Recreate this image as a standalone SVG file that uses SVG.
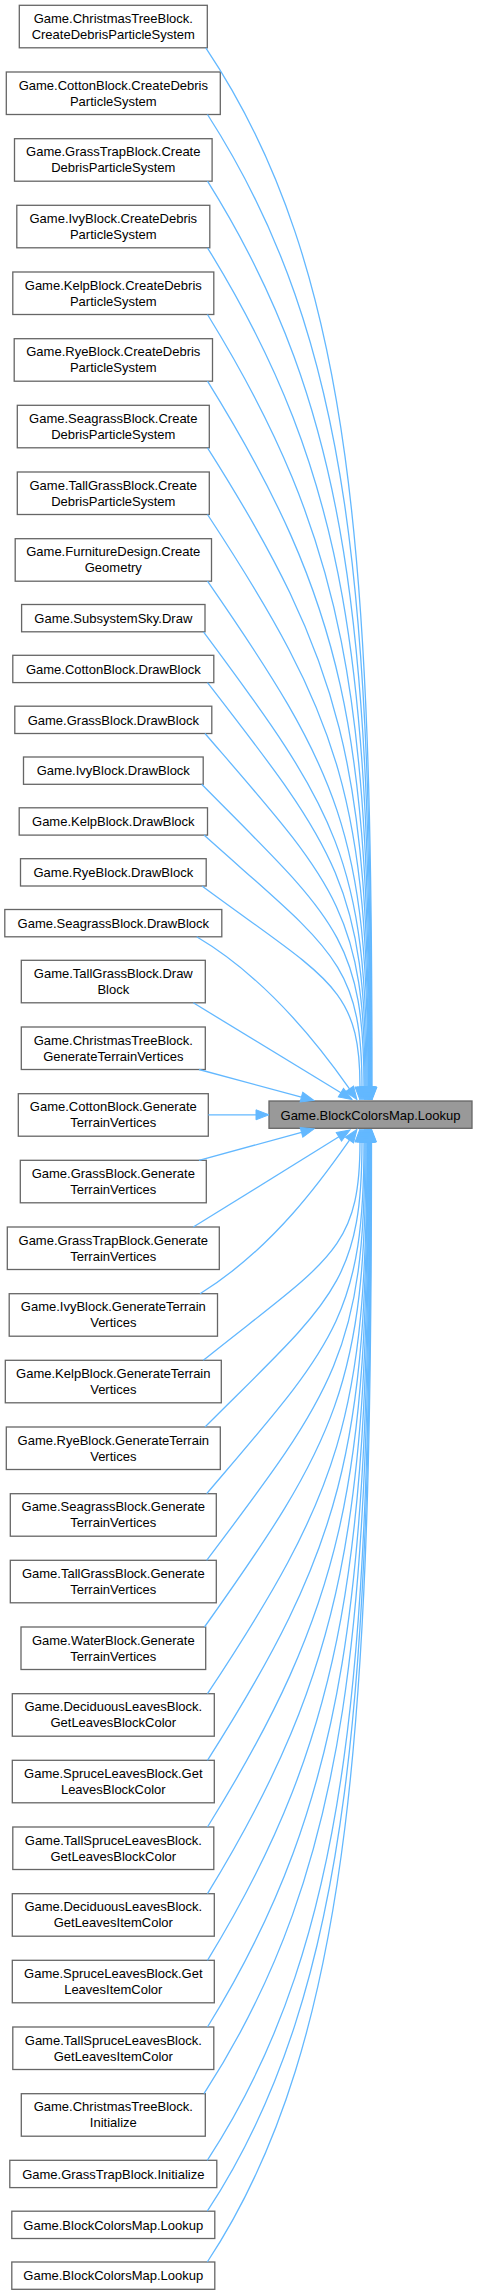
<svg xmlns="http://www.w3.org/2000/svg" width="477" height="2293" viewBox="0 0 477 2293">
<style>
.n rect{fill:#ffffff;stroke:#666666;stroke-width:1.3}
#target rect{fill:#999999;stroke:#666666;stroke-width:1.3}
text{font-family:"Liberation Sans",Arial,Helvetica,sans-serif;font-size:13px;fill:#000000;text-anchor:middle}
.e path{fill:none;stroke:#63b8ff;stroke-width:1.3;marker-end:url(#ah)}
</style>
<defs>
<marker id="ah" markerUnits="userSpaceOnUse" viewBox="0 0 13 10" markerWidth="13" markerHeight="10" refX="0" refY="5" orient="auto" overflow="visible">
<path d="M0,0 L13,5 L0,10 Z" fill="#63b8ff" stroke="#63b8ff" stroke-width="1"/>
</marker>
</defs>
<rect width="477" height="2293" fill="#ffffff"/>
<g id="target" class="n"><rect x="269" y="1101" width="203" height="27.3"/><text x="370.5" y="1119.5">Game.BlockColorsMap.Lookup</text></g>
<g id="n1" class="n"><rect x="19.3" y="5.3" width="188" height="42.5"/><text x="113.3" y="22.8">Game.ChristmasTreeBlock.</text><text x="113.3" y="39">CreateDebrisParticleSystem</text></g>
<g id="n2" class="n"><rect x="6.3" y="72" width="214" height="42.5"/><text x="113.3" y="89.5">Game.CottonBlock.CreateDebris</text><text x="113.3" y="105.7">ParticleSystem</text></g>
<g id="n3" class="n"><rect x="14.5" y="138.7" width="197.6" height="42.5"/><text x="113.3" y="156.2">Game.GrassTrapBlock.Create</text><text x="113.3" y="172.4">DebrisParticleSystem</text></g>
<g id="n4" class="n"><rect x="16.8" y="205.3" width="193" height="42.5"/><text x="113.3" y="222.8">Game.IvyBlock.CreateDebris</text><text x="113.3" y="239">ParticleSystem</text></g>
<g id="n5" class="n"><rect x="12.8" y="272" width="201" height="42.5"/><text x="113.3" y="289.5">Game.KelpBlock.CreateDebris</text><text x="113.3" y="305.7">ParticleSystem</text></g>
<g id="n6" class="n"><rect x="14.2" y="338.7" width="198.3" height="42.5"/><text x="113.3" y="356.2">Game.RyeBlock.CreateDebris</text><text x="113.3" y="372.4">ParticleSystem</text></g>
<g id="n7" class="n"><rect x="17.3" y="405.3" width="192" height="42.5"/><text x="113.3" y="422.8">Game.SeagrassBlock.Create</text><text x="113.3" y="439">DebrisParticleSystem</text></g>
<g id="n8" class="n"><rect x="17.3" y="472" width="192" height="42.5"/><text x="113.3" y="489.5">Game.TallGrassBlock.Create</text><text x="113.3" y="505.7">DebrisParticleSystem</text></g>
<g id="n9" class="n"><rect x="15.2" y="538.7" width="196.3" height="42.5"/><text x="113.3" y="556.2">Game.FurnitureDesign.Create</text><text x="113.3" y="572.4">Geometry</text></g>
<g id="n10" class="n"><rect x="21.6" y="604.5" width="183.4" height="27.3"/><text x="113.3" y="622.8">Game.SubsystemSky.Draw</text></g>
<g id="n11" class="n"><rect x="12.8" y="655.3" width="201" height="27.3"/><text x="113.3" y="673.6">Game.CottonBlock.DrawBlock</text></g>
<g id="n12" class="n"><rect x="14.8" y="706.2" width="197" height="27.3"/><text x="113.3" y="724.5">Game.GrassBlock.DrawBlock</text></g>
<g id="n13" class="n"><rect x="23.5" y="757" width="179.7" height="27.3"/><text x="113.3" y="775.3">Game.IvyBlock.DrawBlock</text></g>
<g id="n14" class="n"><rect x="19.2" y="807.8" width="188.3" height="27.3"/><text x="113.3" y="826.1">Game.KelpBlock.DrawBlock</text></g>
<g id="n15" class="n"><rect x="20.5" y="858.7" width="185.7" height="27.3"/><text x="113.3" y="877">Game.RyeBlock.DrawBlock</text></g>
<g id="n16" class="n"><rect x="4.8" y="909.5" width="217" height="27.3"/><text x="113.3" y="927.8">Game.SeagrassBlock.DrawBlock</text></g>
<g id="n17" class="n"><rect x="21.3" y="960.3" width="184" height="42.5"/><text x="113.3" y="977.8">Game.TallGrassBlock.Draw</text><text x="113.3" y="994">Block</text></g>
<g id="n18" class="n"><rect x="21.3" y="1027" width="184" height="42.5"/><text x="113.3" y="1044.5">Game.ChristmasTreeBlock.</text><text x="113.3" y="1060.7">GenerateTerrainVertices</text></g>
<g id="n19" class="n"><rect x="18.3" y="1093.7" width="190" height="42.5"/><text x="113.3" y="1111.2">Game.CottonBlock.Generate</text><text x="113.3" y="1127.4">TerrainVertices</text></g>
<g id="n20" class="n"><rect x="20.3" y="1160.3" width="186" height="42.5"/><text x="113.3" y="1177.8">Game.GrassBlock.Generate</text><text x="113.3" y="1194">TerrainVertices</text></g>
<g id="n21" class="n"><rect x="7.3" y="1227" width="212" height="42.5"/><text x="113.3" y="1244.5">Game.GrassTrapBlock.Generate</text><text x="113.3" y="1260.7">TerrainVertices</text></g>
<g id="n22" class="n"><rect x="9.2" y="1293.7" width="208.3" height="42.5"/><text x="113.3" y="1311.2">Game.IvyBlock.GenerateTerrain</text><text x="113.3" y="1327.4">Vertices</text></g>
<g id="n23" class="n"><rect x="5.3" y="1360.3" width="216" height="42.5"/><text x="113.3" y="1377.8">Game.KelpBlock.GenerateTerrain</text><text x="113.3" y="1394">Vertices</text></g>
<g id="n24" class="n"><rect x="6.3" y="1427" width="214" height="42.5"/><text x="113.3" y="1444.5">Game.RyeBlock.GenerateTerrain</text><text x="113.3" y="1460.7">Vertices</text></g>
<g id="n25" class="n"><rect x="10.3" y="1493.7" width="206" height="42.5"/><text x="113.3" y="1511.2">Game.SeagrassBlock.Generate</text><text x="113.3" y="1527.4">TerrainVertices</text></g>
<g id="n26" class="n"><rect x="10.3" y="1560.3" width="206" height="42.5"/><text x="113.3" y="1577.8">Game.TallGrassBlock.Generate</text><text x="113.3" y="1594">TerrainVertices</text></g>
<g id="n27" class="n"><rect x="21" y="1627" width="184.7" height="42.5"/><text x="113.3" y="1644.5">Game.WaterBlock.Generate</text><text x="113.3" y="1660.7">TerrainVertices</text></g>
<g id="n28" class="n"><rect x="12.3" y="1693.7" width="202" height="42.5"/><text x="113.3" y="1711.2">Game.DeciduousLeavesBlock.</text><text x="113.3" y="1727.4">GetLeavesBlockColor</text></g>
<g id="n29" class="n"><rect x="12.3" y="1760.3" width="202" height="42.5"/><text x="113.3" y="1777.8">Game.SpruceLeavesBlock.Get</text><text x="113.3" y="1794">LeavesBlockColor</text></g>
<g id="n30" class="n"><rect x="12.8" y="1827" width="201" height="42.5"/><text x="113.3" y="1844.5">Game.TallSpruceLeavesBlock.</text><text x="113.3" y="1860.7">GetLeavesBlockColor</text></g>
<g id="n31" class="n"><rect x="12.3" y="1893.7" width="202" height="42.5"/><text x="113.3" y="1911.2">Game.DeciduousLeavesBlock.</text><text x="113.3" y="1927.4">GetLeavesItemColor</text></g>
<g id="n32" class="n"><rect x="12.3" y="1960.3" width="202" height="42.5"/><text x="113.3" y="1977.8">Game.SpruceLeavesBlock.Get</text><text x="113.3" y="1994">LeavesItemColor</text></g>
<g id="n33" class="n"><rect x="12.8" y="2027" width="201" height="42.5"/><text x="113.3" y="2044.5">Game.TallSpruceLeavesBlock.</text><text x="113.3" y="2060.7">GetLeavesItemColor</text></g>
<g id="n34" class="n"><rect x="21.3" y="2093.7" width="184" height="42.5"/><text x="113.3" y="2111.2">Game.ChristmasTreeBlock.</text><text x="113.3" y="2127.4">Initialize</text></g>
<g id="n35" class="n"><rect x="9.8" y="2160.3" width="207" height="27.3"/><text x="113.3" y="2178.6">Game.GrassTrapBlock.Initialize</text></g>
<g id="n36" class="n"><rect x="11.8" y="2211.2" width="203" height="27.3"/><text x="113.3" y="2229.5">Game.BlockColorsMap.Lookup</text></g>
<g id="n37" class="n"><rect x="11.8" y="2262" width="203" height="27.3"/><text x="113.3" y="2280.3">Game.BlockColorsMap.Lookup</text></g>
<g id="edges" class="e">
<path d="M205.8,47.8 C355.4,271.2 372,567.4 372,1087"/>
<path d="M207.5,114.5 C354.3,343 371.5,600.8 371.5,1087"/>
<path d="M207.5,181.2 C352,412.2 371,634.1 371,1087"/>
<path d="M207.5,247.8 C349.8,478.6 370.5,667.4 370.5,1087"/>
<path d="M207.5,314.5 C347.6,542.4 370,700.8 370,1087"/>
<path d="M207.5,381.2 C345.4,603.5 369.5,734.1 369.5,1087"/>
<path d="M207.5,447.8 C343.2,661.9 369,767.4 369,1087"/>
<path d="M207.5,514.5 C341,717.7 368.5,800.8 368.5,1087"/>
<path d="M207.5,581.2 C338.8,770.9 368,834.1 368,1087"/>
<path d="M203.5,631.8 C335.8,809.3 367,859.4 367,1087"/>
<path d="M207.5,682.6 C334.3,846.4 366,884.8 366,1087"/>
<path d="M205,733.5 C333,882 365,910.3 365,1087"/>
<path d="M201.7,784.3 C331.5,916 364,935.7 364,1087"/>
<path d="M204,835.1 C330.4,948.5 362,961.1 362,1087"/>
<path d="M202,886 C328.4,979.5 360,986.5 360,1087"/>
<path d="M196.7,936.8 C273,982 326.5,1056 349.5,1088.9"/>
<path d="M193.3,1002.8 L340.9,1092.7"/>
<path d="M199,1069.5 L301.4,1097.1"/>
<path d="M208.3,1114.8 L256,1114.8"/>
<path d="M199,1160.3 L301.5,1132.4"/>
<path d="M193.3,1227 L338.9,1136.8"/>
<path d="M200,1293.7 C274.8,1247.6 326.5,1172.9 349.5,1140.1"/>
<path d="M203.3,1360.3 C328.7,1259.7 360,1251.1 360,1142"/>
<path d="M205,1427 C330.6,1301.3 362,1284.5 362,1142"/>
<path d="M206.7,1493.7 C332.5,1345.6 364,1317.8 364,1142"/>
<path d="M206.7,1560.3 C333.3,1392.6 365,1351.1 365,1142"/>
<path d="M204.5,1627 C336,1442.2 366,1384.5 366,1142"/>
<path d="M207.5,1693.7 C339.1,1494.5 367,1417.8 367,1142"/>
<path d="M207.5,1760.3 C341.3,1549.5 367.5,1451.1 367.5,1142"/>
<path d="M207.5,1827 C343.6,1607.1 368,1484.5 368,1142"/>
<path d="M207.5,1893.7 C345.8,1667.4 368.5,1517.8 368.5,1142"/>
<path d="M207.5,1960.3 C348,1730.4 369,1551.1 369,1142"/>
<path d="M207.5,2027 C350.2,1796 369.5,1584.5 369.5,1142"/>
<path d="M204,2093.7 C352.1,1864.3 370,1617.8 370,1142"/>
<path d="M207.3,2160.3 C354.2,1935.3 370.5,1651.1 370.5,1142"/>
<path d="M207.3,2211.2 C354.6,1986.7 371,1676.6 371,1142"/>
<path d="M207.3,2262 C355.1,2038 371.5,1702 371.5,1142"/>
</g>
</svg>
